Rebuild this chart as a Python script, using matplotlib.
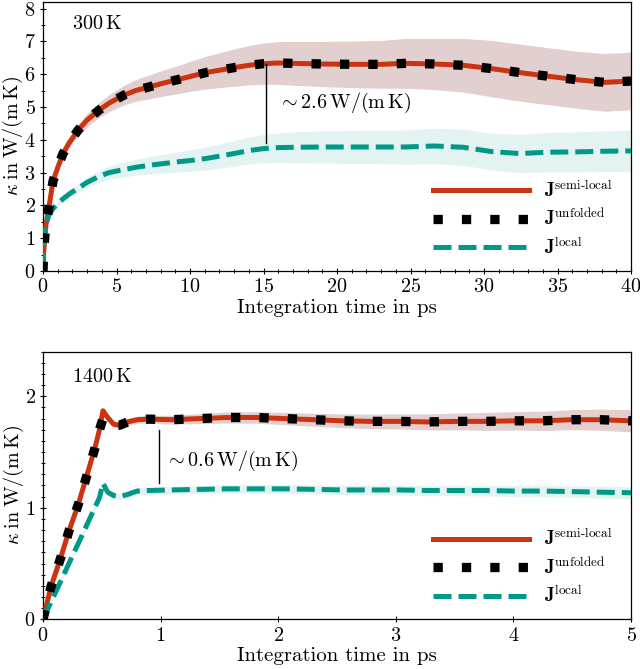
import matplotlib
matplotlib.use("Agg")
import matplotlib.pyplot as plt
from matplotlib.ticker import MultipleLocator, NullLocator
import numpy as np

plt.rcParams['font.family'] = 'serif'
plt.rcParams['font.serif'] = ['cmr10']
plt.rcParams['mathtext.fontset'] = 'cm'
plt.rcParams['axes.formatter.use_mathtext'] = True

# ---------------- data: 300 K ----------------
t300 = [0, 0.05, 0.12, 0.2, 0.39, 0.68, 1.0, 1.36, 1.8, 2.38,
        3.0, 3.8, 4.5, 5.5, 6.3, 7.37, 8.3, 9.23, 10.1, 11.1,
        12.0, 13.0, 14.0, 15.0, 16.0, 17.0, 19.0, 21.0, 23.0, 24.7,
        26.6, 28.6, 30.5, 32.4, 34.3, 36.3, 38.2, 40.0]
semi300 = [0, 0.6, 1.04, 1.4, 1.9, 2.74, 3.15, 3.58, 3.92, 4.29,
           4.6, 4.9, 5.12, 5.36, 5.5, 5.63, 5.74, 5.84, 5.94, 6.05,
           6.12, 6.2, 6.27, 6.32, 6.34, 6.33, 6.31, 6.3, 6.3, 6.33,
           6.31, 6.27, 6.17, 6.05, 5.94, 5.83, 5.75, 5.79]
unf300 = semi300
err300 = [0, 0.02, 0.04, 0.05, 0.07, 0.09, 0.1, 0.12, 0.14, 0.17,
          0.2, 0.23, 0.26, 0.3, 0.33, 0.37, 0.4, 0.43, 0.46, 0.5,
          0.53, 0.57, 0.6, 0.63, 0.65, 0.67, 0.69, 0.71, 0.73, 0.76,
          0.78, 0.82, 0.86, 0.87, 0.87, 0.87, 0.88, 0.88]
local300 = [0, 0.7, 1.1, 1.35, 1.7, 1.9, 2.05, 2.2, 2.35, 2.52,
            2.7, 2.88, 3.0, 3.09, 3.16, 3.23, 3.28, 3.33, 3.37, 3.43,
            3.5, 3.58, 3.67, 3.73, 3.76, 3.77, 3.78, 3.78, 3.78, 3.78,
            3.81, 3.77, 3.64, 3.58, 3.62, 3.63, 3.65, 3.66]
errl300 = [0, 0.02, 0.04, 0.05, 0.07, 0.08, 0.09, 0.1, 0.12, 0.14,
           0.16, 0.18, 0.2, 0.22, 0.24, 0.27, 0.29, 0.31, 0.33, 0.35,
           0.37, 0.39, 0.41, 0.43, 0.45, 0.47, 0.49, 0.5, 0.51, 0.52,
           0.54, 0.55, 0.56, 0.58, 0.6, 0.61, 0.62, 0.63]

# ---------------- data: 1400 K ----------------
t1400 = [0, 0.07, 0.15, 0.22, 0.30, 0.37, 0.44, 0.48, 0.51, 0.55,
         0.60, 0.65, 0.72, 0.80, 0.9, 1.09, 1.33, 1.57, 1.81, 2.06,
         2.3, 2.55, 2.79, 3.03, 3.27, 3.52, 3.76, 4.01, 4.25, 4.5,
         4.74, 5.0]
semi1400 = [0, 0.3, 0.55, 0.79, 1.03, 1.28, 1.53, 1.70, 1.87, 1.81,
            1.75, 1.74, 1.77, 1.79, 1.795, 1.79, 1.80, 1.81, 1.81, 1.80,
            1.79, 1.78, 1.775, 1.775, 1.77, 1.775, 1.775, 1.78, 1.78, 1.79,
            1.79, 1.78]
unf1400 = [0, 0.3, 0.55, 0.79, 1.03, 1.28, 1.53, 1.70, 1.80, 1.78,
           1.74, 1.74, 1.77, 1.79, 1.795, 1.79, 1.80, 1.81, 1.81, 1.80,
           1.79, 1.78, 1.775, 1.775, 1.77, 1.775, 1.775, 1.78, 1.78, 1.79,
           1.79, 1.78]
err1400 = [0, 0.005, 0.01, 0.012, 0.015, 0.017, 0.02, 0.02, 0.02, 0.022,
           0.025, 0.027, 0.03, 0.032, 0.035, 0.04, 0.045, 0.05, 0.052, 0.055,
           0.058, 0.062, 0.065, 0.068, 0.072, 0.075, 0.08, 0.083, 0.087, 0.09,
           0.095, 0.1]
local1400 = [0, 0.16, 0.34, 0.50, 0.68, 0.84, 1.0, 1.09, 1.22, 1.14,
             1.11, 1.10, 1.12, 1.15, 1.155, 1.16, 1.165, 1.17, 1.17, 1.17,
             1.165, 1.16, 1.16, 1.16, 1.155, 1.155, 1.155, 1.15, 1.15, 1.145,
             1.14, 1.135]
errl1400 = [0, 0.01, 0.015, 0.02, 0.02, 0.025, 0.025, 0.03, 0.03, 0.03,
            0.03, 0.03, 0.03, 0.03, 0.032, 0.033, 0.035, 0.037, 0.038, 0.04,
            0.04, 0.042, 0.043, 0.045, 0.046, 0.047, 0.048, 0.05, 0.05, 0.052,
            0.053, 0.055]

labels = [r"$\mathbf{J}^{\text{semi-local}}$",
          r"$\mathbf{J}^{\text{unfolded}}$",
          r"$\mathbf{J}^{\text{local}}$"]

RED = '#CC3311'
TEAL = '#009988'
RED_BAND = '#e2d0d0'
TEAL_BAND = '#e2f3f2'

fig = plt.figure(figsize=(6.4, 6.69), dpi=100)
ax1 = fig.add_axes([0.0672, 0.595, 0.9188, 0.402])
ax2 = fig.add_axes([0.0672, 0.0743, 0.9188, 0.400])


def draw(ax, t, semi, unf, err, loc, errl):
    t = np.asarray(t); semi = np.asarray(semi); err = np.asarray(err)
    loc = np.asarray(loc); errl = np.asarray(errl)
    ax.fill_between(t, semi - err, semi + err, color=RED_BAND, lw=0, zorder=1)
    ax.fill_between(t, loc - errl, loc + errl, color=TEAL_BAND, lw=0, zorder=1)
    ax.plot(t, semi, color=RED, lw=3.6, zorder=3, label=labels[0])
    ax.plot(t, unf, color='black', lw=6.7, dashes=(1, 2.05),
            dash_capstyle='butt', zorder=4, label=labels[1])
    ax.plot(t, loc, color=TEAL, lw=3.6, dashes=(3.6, 1.4),
            dash_capstyle='butt', zorder=3, label=labels[2])
    for s in ax.spines.values():
        s.set_linewidth(0.9)
    ax.tick_params(which='major', direction='inout', length=4.5, width=0.8,
                   labelsize=14.5, top=False, right=False, pad=3)
    ax.tick_params(which='minor', direction='inout', length=2.5, width=0.7,
                   top=False, right=False)
    ax.set_xlabel('Integration time in ps', fontsize=15, labelpad=2)
    ax.set_ylabel(r'$\kappa\;\mathrm{in}\;\mathrm{W/(m\,K)}$', fontsize=14.5,
                  labelpad=-1)
    ax.legend(loc='lower right', bbox_to_anchor=(0.99, 0.0), frameon=False,
              fontsize=13.5, handlelength=5.1, handletextpad=0.8,
              labelspacing=0.4, borderaxespad=0.3)


draw(ax1, t300, semi300, unf300, err300, local300, errl300)
ax1.set_xlim(0, 40)
ax1.set_ylim(0, 8.2)
ax1.xaxis.set_major_locator(MultipleLocator(5))
ax1.xaxis.set_minor_locator(MultipleLocator(1))
ax1.yaxis.set_major_locator(MultipleLocator(1))
ax1.yaxis.set_minor_locator(MultipleLocator(0.5))
ax1.text(0.05, 0.92, r'$300\,\mathrm{K}$', transform=ax1.transAxes,
         fontsize=14.5, va='center', ha='left')
ax1.plot([15.2, 15.2], [6.3, 3.9], color='black', lw=1.0, zorder=5)
ax1.text(16.0, 5.11, r'$\sim 2.6\,\mathrm{W/(m\,K)}$', fontsize=14.5,
         va='center', ha='left')

draw(ax2, t1400, semi1400, unf1400, err1400, local1400, errl1400)
ax2.set_xlim(0, 5)
ax2.set_ylim(0, 2.4)
ax2.xaxis.set_major_locator(MultipleLocator(1))
ax2.xaxis.set_minor_locator(NullLocator())
ax2.yaxis.set_major_locator(MultipleLocator(1))
ax2.yaxis.set_minor_locator(MultipleLocator(0.1))
ax2.text(0.05, 0.905, r'$1400\,\mathrm{K}$', transform=ax2.transAxes,
         fontsize=14.5, va='center', ha='left')
ax2.plot([0.985, 0.985], [1.70, 1.22], color='black', lw=1.0, zorder=5)
ax2.text(1.035, 1.42, r'$\sim 0.6\,\mathrm{W/(m\,K)}$', fontsize=14.5,
         va='center', ha='left')

fig.savefig('out.png', dpi=100)
